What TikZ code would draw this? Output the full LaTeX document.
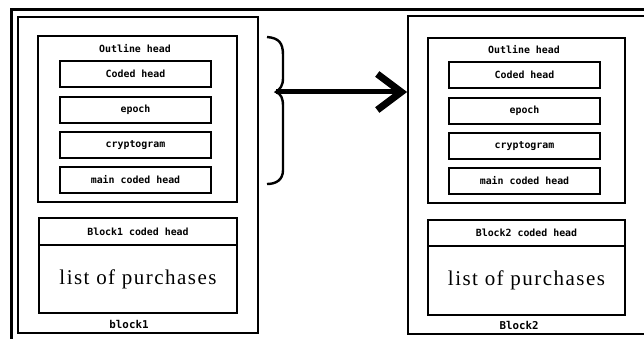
\documentclass[tikz,border=0pt]{standalone}
\usepackage{fontspec}
\usepackage{tikz}
\usetikzlibrary{arrows.meta}
\newfontfamily\boxfont{DejaVu Sans Mono}
\newfontfamily\listfont[LetterSpace=7]{Liberation Serif}

\begin{document}
\begin{tikzpicture}[x=1pt, y=-1pt,
            blockbox/.style={draw, line width=1.8pt, inner sep=0pt},
            headbox/.style={draw, line width=2.6pt, inner sep=0pt},
            fieldbox/.style={draw, line width=2.6pt, inner sep=0pt, minimum width=151pt, minimum height=26pt, font=\boxfont\bfseries\fontsize{9.9}{10}\selectfont},
            monotext/.style={inner sep=0pt, font=\boxfont\bfseries\fontsize{9.9}{10}\selectfont},
            listtext/.style={font=\listfont\fontsize{21}{24}\selectfont},
            arrow/.style={-{Straight Barb[length=24pt, width=36pt, line width=7pt]}, line width=5pt}
        ]
            \useasboundingbox (0,0) rectangle (644,339);
            \clip (0,0) rectangle (644,339);

            % outer frame (cut by the page)
            \draw[line width=3.5pt] (11.5,420) -- (11.5,9.5) -- (720,9.5);

            % Block 1 on left
            \node[blockbox, minimum width=240pt, minimum height=316pt] (block1) at (138,175) {};
            \node[headbox, minimum width=199pt, minimum height=166pt] (outline1) at (137.5,119) {};
            \node[monotext] (otitle1) at (135,49) {Outline head};
            \node[fieldbox] (coded1) at (135.5,74) {Coded head};
            \node[fieldbox] (epoch1) at (135.5,110) {epoch};
            \node[fieldbox] (crypto1) at (135.5,145) {cryptogram};
            \node[fieldbox] (main1) at (135.5,180) {main coded head};
            \node[headbox, minimum width=198pt, minimum height=27pt, font=\boxfont\bfseries\fontsize{9.9}{10}\selectfont] (bhead1) at (138,231.5) {Block1 coded head};
            \node[headbox, minimum width=198pt, minimum height=68pt, listtext] (list1) at (138,279) {list of purchases};
            \node[monotext, font=\boxfont\bfseries\fontsize{10.8}{11}\selectfont] (name1) at (129,324) {block1};

            % Block 2 on right
            \node[blockbox, minimum width=239pt, minimum height=318pt] (block2) at (527.5,175) {};
            \node[headbox, minimum width=197pt, minimum height=165pt] (outline2) at (526.5,120.5) {};
            \node[monotext] (otitle2) at (524,50) {Outline head};
            \node[fieldbox] (coded2) at (524.5,75) {Coded head};
            \node[fieldbox] (epoch2) at (524.5,111) {epoch};
            \node[fieldbox] (crypto2) at (524.5,146) {cryptogram};
            \node[fieldbox] (main2) at (524.5,181) {main coded head};
            \node[headbox, minimum width=197pt, minimum height=26pt, font=\boxfont\bfseries\fontsize{9.9}{10}\selectfont] (bhead2) at (526.5,233) {Block2 coded head};
            \node[headbox, minimum width=197pt, minimum height=69pt, listtext] (list2) at (526.5,280.5) {list of purchases};
            \node[monotext, font=\boxfont\bfseries\fontsize{10.8}{11}\selectfont] (name2) at (519,325) {Block2};

            % brace round the outline head, arrow from its cusp
            \coordinate (cusp) at (276,92);
            \draw[line width=2.4pt] (267,37) .. controls (279,38) and (283,43) .. (283,55)
                -- (283,78) .. controls (283,86) and (280,89) .. (cusp)
                .. controls (281,94) and (283,98) .. (283,106)
                -- (283,170) .. controls (283,180) and (276,184) .. (267,184);
            \draw[arrow] (cusp) -- (cusp -| block2.west);

        \end{tikzpicture}
\end{document}
